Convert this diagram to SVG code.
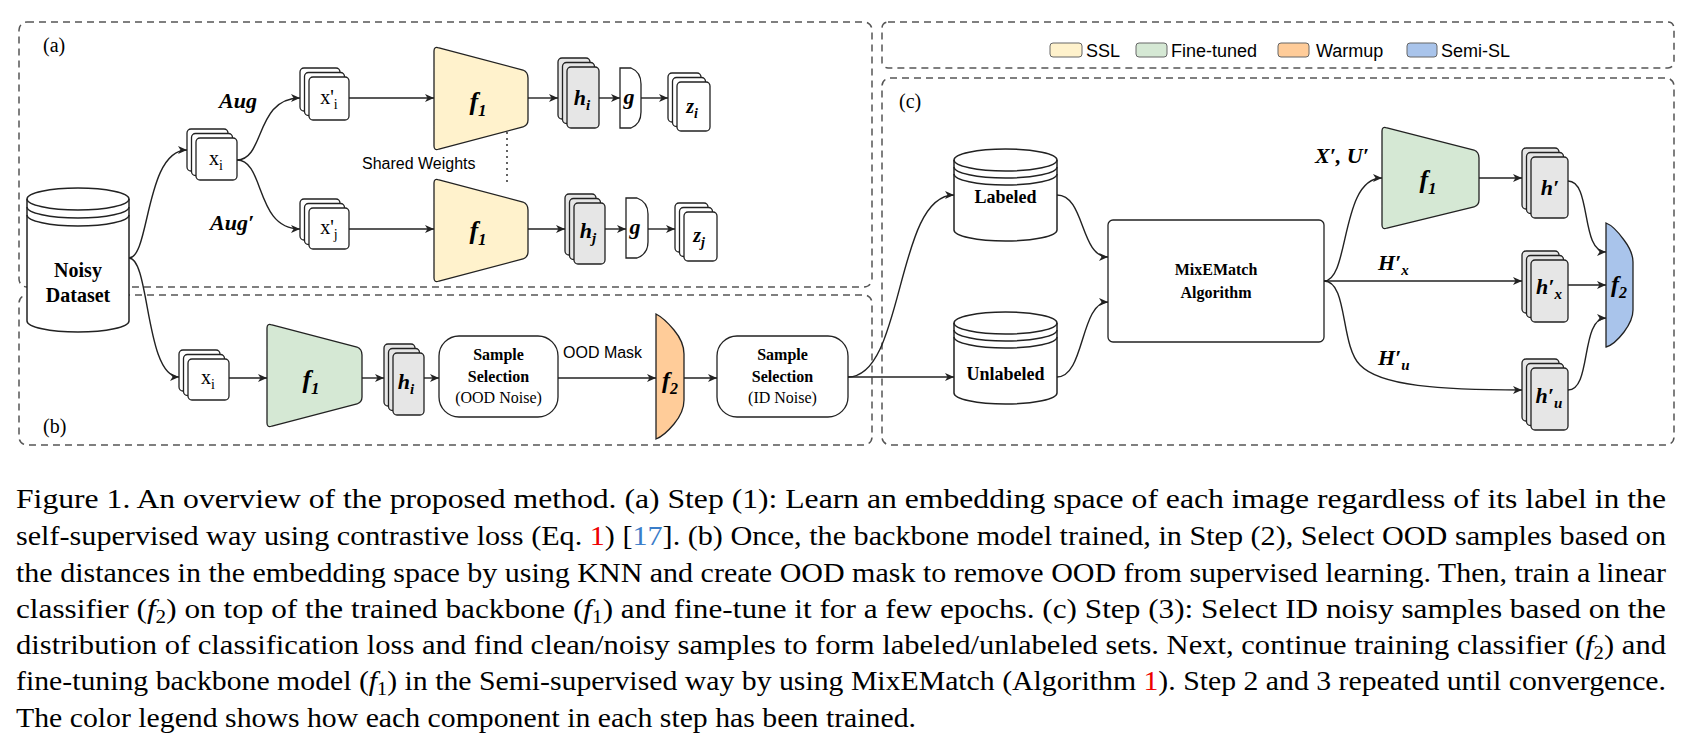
<svg xmlns="http://www.w3.org/2000/svg" width="1689" height="748" viewBox="0 0 1689 748">
<style>
.dash{fill:none;stroke:#555;stroke-width:1.5;stroke-dasharray:7 5}
.card{fill:#fff;stroke:#222;stroke-width:1.3}
.gcard{fill:#e6e6e6;stroke:#222;stroke-width:1.3}
.cyl{fill:#fff;stroke:#222;stroke-width:1.5}
.c{fill:none;stroke:#222;stroke-width:1.4}
.ser{font-family:"Liberation Serif",serif;fill:#000}
.san{font-family:"Liberation Sans",sans-serif;fill:#000}
.m{font-family:"Liberation Serif",serif;font-style:italic;font-weight:bold;fill:#000}
.cap{font-family:"Liberation Serif",serif;font-size:28px;fill:#000}
</style>
<defs>
<marker id="ar" markerWidth="10" markerHeight="10" refX="9" refY="5" orient="auto" markerUnits="userSpaceOnUse">
<path d="M0,1 L9,5 L0,9 L2.5,5 Z" fill="#222"/>
</marker>
</defs>
<rect width="1689" height="748" fill="#fff"/>
<g id="frames">
<rect class="dash" x="19" y="22" width="853" height="265" rx="8"/>
<rect class="dash" x="19" y="295" width="853" height="150" rx="8"/>
<rect class="dash" x="882" y="22" width="792" height="46" rx="6"/>
<rect class="dash" x="882" y="78" width="792" height="367" rx="8"/>
<text class="ser" x="43" y="52" font-size="20">(a)</text>
<text class="ser" x="43" y="433" font-size="20">(b)</text>
<text class="ser" x="899" y="108" font-size="20">(c)</text>
</g>
<g id="legend" class="san" font-size="18">
<rect x="1050" y="43" width="32" height="14" rx="3" fill="#fff2cc" stroke="#666"/>
<text x="1086" y="57">SSL</text>
<rect x="1136" y="43" width="31" height="14" rx="3" fill="#d5e8d4" stroke="#666"/>
<text x="1171" y="57">Fine-tuned</text>
<rect x="1278" y="43" width="31" height="14" rx="3" fill="#ffcc99" stroke="#666"/>
<text x="1316" y="57">Warmup</text>
<rect x="1407" y="43" width="30" height="14" rx="3" fill="#a9c4eb" stroke="#666"/>
<text x="1441" y="57">Semi-SL</text>
</g>
<g id="dataset">
<path class="cyl" d="M27,199 A51,11 0 0 1 129,199 L129,321 A51,11 0 0 1 27,321 Z"/>
<path class="c" d="M27,199 A51,11 0 0 0 129,199 M27,207 A51,11 0 0 0 129,207 M27,215 A51,11 0 0 0 129,215"/>
<text class="ser" x="78" y="277" font-size="20" font-weight="bold" text-anchor="middle">Noisy</text>
<text class="ser" x="78" y="302" font-size="20" font-weight="bold" text-anchor="middle">Dataset</text>
</g>
<g id="xi_top">
<rect class="card" x="187" y="129" width="41" height="42" rx="4"/><rect class="card" x="191.5" y="133.5" width="41" height="42" rx="4"/><rect class="card" x="196" y="138" width="41" height="42" rx="4"/>
<text class="ser" x="216" y="165" font-size="20" text-anchor="middle">x<tspan font-size="14" dy="5">i</tspan></text>
</g>
<g id="xpi">
<rect class="card" x="300" y="68" width="40" height="43" rx="4"/><rect class="card" x="304.5" y="72.5" width="40" height="43" rx="4"/><rect class="card" x="309" y="77" width="40" height="43" rx="4"/>
<text class="ser" x="329" y="104" font-size="20" text-anchor="middle">x'<tspan font-size="14" dy="5">i</tspan></text>
</g>
<g id="xpj">
<rect class="card" x="300" y="199" width="40" height="41" rx="4"/><rect class="card" x="304.5" y="203.5" width="40" height="41" rx="4"/><rect class="card" x="309" y="208" width="40" height="41" rx="4"/>
<text class="ser" x="329" y="234" font-size="20" text-anchor="middle">x'<tspan font-size="14" dy="5">j</tspan></text>
</g>
<g id="f1_top">
<path d="M434,51 Q434,46 439,48 L523,70 Q528,72 528,78 L528,120 Q528,125 523,127 L439,149 Q434,151 434,146 Z" fill="#fff2cc" stroke="#222" stroke-width="1.3"/>
<text class="m" x="478" y="110" font-size="26" text-anchor="middle">f<tspan font-size="17" dy="6">1</tspan></text>
</g>
<g id="f1_bot">
<path d="M434,183 Q434,178 439,180 L523,202 Q528,204 528,210 L528,252 Q528,257 523,259 L439,281 Q434,283 434,278 Z" fill="#fff2cc" stroke="#222" stroke-width="1.3"/>
<text class="m" x="478" y="239" font-size="26" text-anchor="middle">f<tspan font-size="17" dy="6">1</tspan></text>
</g>
<g id="hi_top">
<rect class="gcard" x="558" y="58" width="32" height="61" rx="4"/><rect class="gcard" x="562.5" y="62.5" width="32" height="61" rx="4"/><rect class="gcard" x="567" y="67" width="32" height="61" rx="4"/>
<text class="m" x="582" y="105" font-size="22" text-anchor="middle">h<tspan font-size="15" dy="5">i</tspan></text>
</g>
<g id="g_top">
<path d="M620,68 L631,68 Q641,72 641,84 L641,112 Q641,124 631,128 L620,128 Z" fill="#fff" stroke="#222" stroke-width="1.3"/>
<text class="m" x="629" y="104" font-size="22" text-anchor="middle">g</text>
</g>
<g id="zi">
<rect class="card" x="668" y="73" width="33" height="49" rx="4"/><rect class="card" x="672.5" y="77.5" width="33" height="49" rx="4"/><rect class="card" x="677" y="82" width="33" height="49" rx="4"/>
<text class="m" x="692" y="113" font-size="20" text-anchor="middle">z<tspan font-size="14" dy="5">i</tspan></text>
</g>
<g id="hj">
<rect class="gcard" x="565" y="194" width="31" height="61" rx="4"/><rect class="gcard" x="569.5" y="198.5" width="31" height="61" rx="4"/><rect class="gcard" x="574" y="203" width="31" height="61" rx="4"/>
<text class="m" x="588" y="238" font-size="22" text-anchor="middle">h<tspan font-size="15" dy="5">j</tspan></text>
</g>
<g id="g_bot">
<path d="M626,198 L637,198 Q648,202 648,214 L648,242 Q648,254 637,258 L626,258 Z" fill="#fff" stroke="#222" stroke-width="1.3"/>
<text class="m" x="635" y="234" font-size="22" text-anchor="middle">g</text>
</g>
<g id="zj">
<rect class="card" x="675" y="203" width="33" height="49" rx="4"/><rect class="card" x="679.5" y="207.5" width="33" height="49" rx="4"/><rect class="card" x="684" y="212" width="33" height="49" rx="4"/>
<text class="m" x="699" y="242" font-size="20" text-anchor="middle">z<tspan font-size="14" dy="5">j</tspan></text>
</g>
<g id="labels_a">
<text class="m" x="219" y="108" font-size="22">Aug</text>
<text class="m" x="210" y="230" font-size="22">Aug′</text>
<text class="san" x="362" y="169" font-size="16">Shared Weights</text>
</g>
<g id="xi_bot">
<rect class="card" x="179" y="350" width="41" height="41" rx="4"/><rect class="card" x="183.5" y="354.5" width="41" height="41" rx="4"/><rect class="card" x="188" y="359" width="41" height="41" rx="4"/>
<text class="ser" x="208" y="384" font-size="20" text-anchor="middle">x<tspan font-size="14" dy="5">i</tspan></text>
</g>
<g id="f1_b">
<path d="M267,328 Q267,323 272,325 L357,347 Q362,349 362,355 L362,397 Q362,402 357,404 L272,426 Q267,428 267,423 Z" fill="#d5e8d4" stroke="#222" stroke-width="1.3"/>
<text class="m" x="311" y="388" font-size="26" text-anchor="middle">f<tspan font-size="17" dy="6">1</tspan></text>
</g>
<g id="hi_b">
<rect class="gcard" x="384" y="344" width="31" height="62" rx="4"/><rect class="gcard" x="388.5" y="348.5" width="31" height="62" rx="4"/><rect class="gcard" x="393" y="353" width="31" height="62" rx="4"/>
<text class="m" x="406" y="389" font-size="22" text-anchor="middle">h<tspan font-size="15" dy="5">i</tspan></text>
</g>
<g id="ss_ood">
<rect class="card" x="439" y="336" width="119" height="81" rx="20"/>
<text class="ser" x="498.5" y="360" font-size="16" font-weight="bold" text-anchor="middle">Sample</text>
<text class="ser" x="498.5" y="382" font-size="16" font-weight="bold" text-anchor="middle">Selection</text>
<text class="ser" x="498.5" y="403" font-size="16" text-anchor="middle">(OOD Noise)</text>
</g>
<text class="san" x="563" y="358" font-size="16">OOD Mask</text>
<g id="f2_orange">
<path d="M656,314 Q664,318 674,330 Q684,342 684,354 L684,400 Q684,412 674,424 Q664,436 656,439 Z" fill="#ffcc99" stroke="#222" stroke-width="1.3"/>
<text class="m" x="670" y="388" font-size="24" text-anchor="middle">f<tspan font-size="16" dy="6">2</tspan></text>
</g>
<g id="ss_id">
<rect class="card" x="717" y="336" width="131" height="81" rx="20"/>
<text class="ser" x="782.5" y="360" font-size="16" font-weight="bold" text-anchor="middle">Sample</text>
<text class="ser" x="782.5" y="382" font-size="16" font-weight="bold" text-anchor="middle">Selection</text>
<text class="ser" x="782.5" y="403" font-size="16" text-anchor="middle">(ID Noise)</text>
</g>
<g id="labeled">
<path class="cyl" d="M954,160 A51.5,11 0 0 1 1057,160 L1057,230 A51.5,11 0 0 1 954,230 Z"/>
<path class="c" d="M954,160 A51.5,11 0 0 0 1057,160 M954,167 A51.5,11 0 0 0 1057,167 M954,174 A51.5,11 0 0 0 1057,174"/>
<text class="ser" x="1005.5" y="203" font-size="18" font-weight="bold" text-anchor="middle">Labeled</text>
</g>
<g id="unlabeled">
<path class="cyl" d="M954,323 A51.5,11 0 0 1 1057,323 L1057,393 A51.5,11 0 0 1 954,393 Z"/>
<path class="c" d="M954,323 A51.5,11 0 0 0 1057,323 M954,330 A51.5,11 0 0 0 1057,330 M954,337 A51.5,11 0 0 0 1057,337"/>
<text class="ser" x="1005.5" y="380" font-size="18" font-weight="bold" text-anchor="middle">Unlabeled</text>
</g>
<g id="mixematch">
<rect class="card" x="1108" y="220" width="216" height="122" rx="5"/>
<text class="ser" x="1216" y="275" font-size="16" font-weight="bold" text-anchor="middle">MixEMatch</text>
<text class="ser" x="1216" y="298" font-size="16" font-weight="bold" text-anchor="middle">Algorithm</text>
</g>
<g id="f1_c">
<path d="M1382,131 Q1382,126 1387,128 L1474,150 Q1479,152 1479,158 L1479,200 Q1479,205 1474,207 L1387,228 Q1382,230 1382,225 Z" fill="#d5e8d4" stroke="#222" stroke-width="1.3"/>
<text class="m" x="1428" y="188" font-size="26" text-anchor="middle">f<tspan font-size="17" dy="6">1</tspan></text>
</g>
<g id="hp">
<rect class="gcard" x="1522" y="148" width="37" height="61" rx="4"/><rect class="gcard" x="1526.5" y="152.5" width="37" height="61" rx="4"/><rect class="gcard" x="1531" y="157" width="37" height="61" rx="4"/>
<text class="m" x="1550" y="195" font-size="22" text-anchor="middle">h′</text>
</g>
<g id="hpx">
<rect class="gcard" x="1522" y="251" width="37" height="62" rx="4"/><rect class="gcard" x="1526.5" y="255.5" width="37" height="62" rx="4"/><rect class="gcard" x="1531" y="260" width="37" height="62" rx="4"/>
<text class="m" x="1549" y="294" font-size="22" text-anchor="middle">h′<tspan font-size="15" dy="5">x</tspan></text>
</g>
<g id="hpu">
<rect class="gcard" x="1522" y="359" width="37" height="62" rx="4"/><rect class="gcard" x="1526.5" y="363.5" width="37" height="62" rx="4"/><rect class="gcard" x="1531" y="368" width="37" height="62" rx="4"/>
<text class="m" x="1549" y="403" font-size="22" text-anchor="middle">h′<tspan font-size="15" dy="5">u</tspan></text>
</g>
<g id="f2_blue">
<path d="M1606,223 Q1614,226 1624,240 Q1633,252 1633,262 L1633,310 Q1633,320 1624,332 Q1614,345 1606,347 Z" fill="#a9c4eb" stroke="#222" stroke-width="1.3"/>
<text class="m" x="1619" y="292" font-size="24" text-anchor="middle">f<tspan font-size="16" dy="6">2</tspan></text>
</g>
<g id="labels_c">
<text class="m" x="1315" y="163" font-size="22">X′, U′</text>
<text class="m" x="1378" y="270" font-size="22">H′<tspan font-size="15" dy="5">x</tspan></text>
<text class="m" x="1378" y="365" font-size="22">H′<tspan font-size="15" dy="5">u</tspan></text>
</g>
<g id="connectors" class="c">
<path d="M129,258 C150,258 145,150 187,150" marker-end="url(#ar)"/>
<path d="M129,258 C150,258 145,377 179,377" marker-end="url(#ar)"/>
<path d="M237,160 C265,160 255,98 300,98" marker-end="url(#ar)"/>
<path d="M237,160 C265,160 255,229 300,229" marker-end="url(#ar)"/>
<path d="M349,98 L434,98" marker-end="url(#ar)"/>
<path d="M528,98 L558,98" marker-end="url(#ar)"/>
<path d="M599,98 L620,98" marker-end="url(#ar)"/>
<path d="M641,98 L668,98" marker-end="url(#ar)"/>
<path d="M349,229 L434,229" marker-end="url(#ar)"/>
<path d="M528,229 L565,229" marker-end="url(#ar)"/>
<path d="M605,229 L626,229" marker-end="url(#ar)"/>
<path d="M648,229 L675,229" marker-end="url(#ar)"/>
<path d="M507,132 L507,184" stroke-dasharray="2 4"/>
<path d="M229,378 L267,378" marker-end="url(#ar)"/>
<path d="M362,378 L384,378" marker-end="url(#ar)"/>
<path d="M424,378 L439,378" marker-end="url(#ar)"/>
<path d="M558,378 L656,378" marker-end="url(#ar)"/>
<path d="M684,378 L717,378" marker-end="url(#ar)"/>
<path d="M848,377 L954,377" marker-end="url(#ar)"/>
<path d="M848,377 C905,377 895,195 954,195" marker-end="url(#ar)"/>
<path d="M1057,195 C1085,195 1080,257 1108,257" marker-end="url(#ar)"/>
<path d="M1057,377 C1085,377 1080,302 1108,302" marker-end="url(#ar)"/>
<path d="M1324,281 C1350,281 1340,178 1382,178" marker-end="url(#ar)"/>
<path d="M1324,281 L1522,281" marker-end="url(#ar)"/>
<path d="M1324,281 C1348,281 1340,345 1360,365 C1380,386 1440,390 1522,390" marker-end="url(#ar)"/>
<path d="M1479,178 L1522,178" marker-end="url(#ar)"/>
<path d="M1568,181 C1592,181 1580,252 1606,252" marker-end="url(#ar)"/>
<path d="M1568,285 L1606,285" marker-end="url(#ar)"/>
<path d="M1568,390 C1592,390 1580,318 1606,318" marker-end="url(#ar)"/>
</g>
<g id="caption" class="cap">
<text x="16" y="508" textLength="1650" lengthAdjust="spacingAndGlyphs">Figure 1.  An overview of the proposed method.  (a) Step (1):  Learn an embedding space of each image regardless of its label in the</text>
<text x="16" y="545" textLength="1650" lengthAdjust="spacingAndGlyphs">self-supervised way using contrastive loss (Eq. <tspan fill="#e00">1</tspan>) [<tspan fill="#3a7dc9">17</tspan>]. (b) Once, the backbone model trained, in Step (2), Select OOD samples based on</text>
<text x="16" y="582" textLength="1650" lengthAdjust="spacingAndGlyphs">the distances in the embedding space by using KNN and create OOD mask to remove OOD from supervised learning. Then, train a linear</text>
<text x="16" y="618" textLength="1650" lengthAdjust="spacingAndGlyphs">classifier (<tspan font-style="italic">f</tspan><tspan font-size="19" dy="5">2</tspan><tspan dy="-5">) on top of the trained backbone (</tspan><tspan font-style="italic">f</tspan><tspan font-size="19" dy="5">1</tspan><tspan dy="-5">) and fine-tune it for a few epochs. (c) Step (3): Select ID noisy samples based on the</tspan></text>
<text x="16" y="654" textLength="1650" lengthAdjust="spacingAndGlyphs">distribution of classification loss and find clean/noisy samples to form labeled/unlabeled sets. Next, continue training classifier (<tspan font-style="italic">f</tspan><tspan font-size="19" dy="5">2</tspan><tspan dy="-5">) and</tspan></text>
<text x="16" y="690" textLength="1650" lengthAdjust="spacingAndGlyphs">fine-tuning backbone model (<tspan font-style="italic">f</tspan><tspan font-size="19" dy="5">1</tspan><tspan dy="-5">) in the Semi-supervised way by using MixEMatch (Algorithm </tspan><tspan fill="#e00">1</tspan>). Step 2 and 3 repeated until convergence.</text>
<text x="16" y="727" textLength="900" lengthAdjust="spacingAndGlyphs">The color legend shows how each component in each step has been trained.</text>
</g>
</svg>
